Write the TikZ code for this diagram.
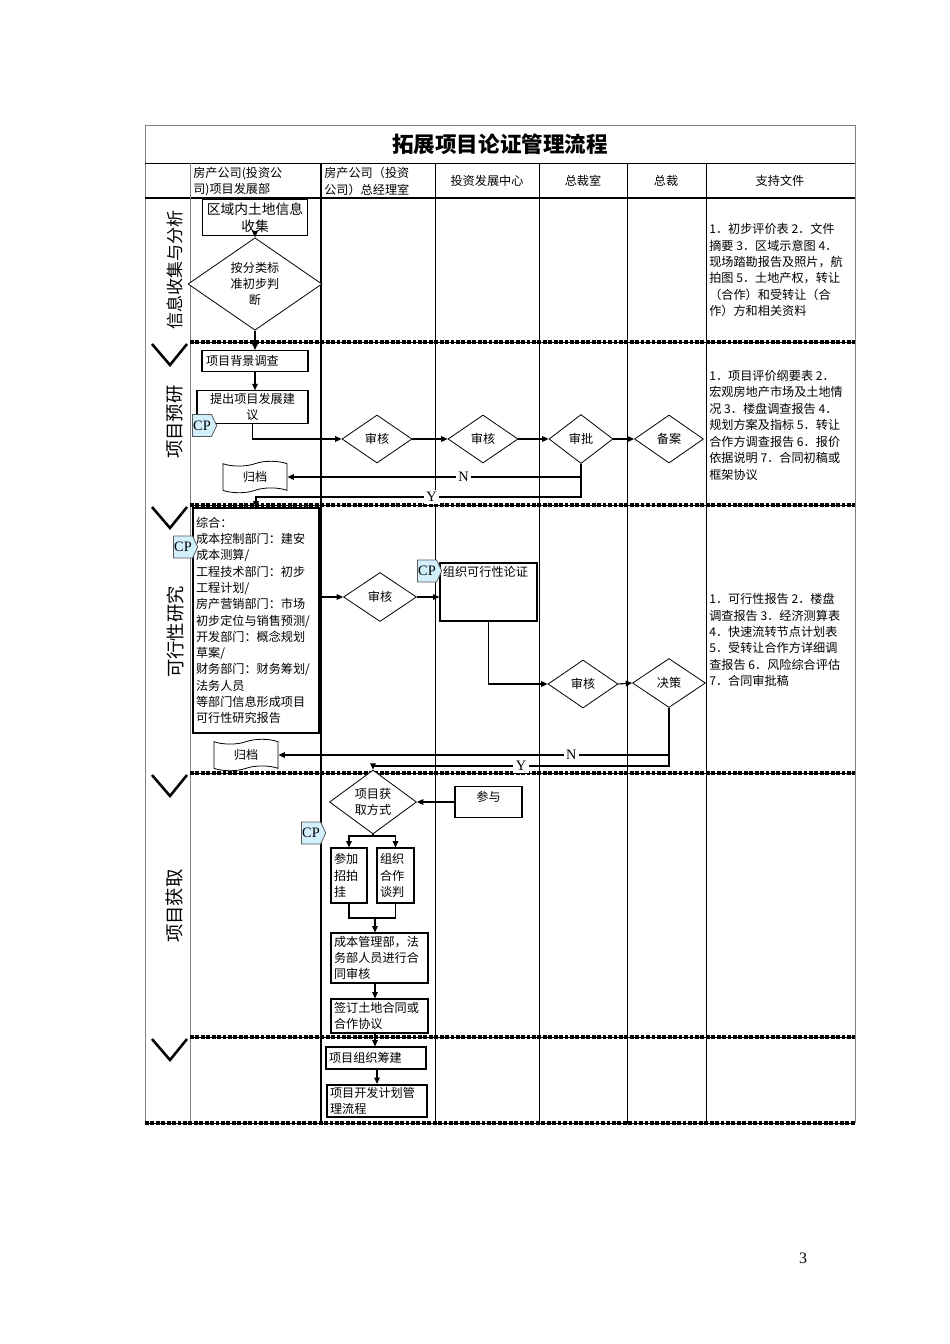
\documentclass[tikz,border=0pt]{standalone}
\usepackage{fontspec}
\setmainfont{Noto Sans CJK SC}
\newfontfamily\latinserif{Liberation Serif}
\usepackage{tikz}
\usetikzlibrary{arrows.meta,positioning,shapes.geometric,shapes.symbols}
\newcommand{\upx}{0.6262pt}
\newcommand{\bodyfont}{\fontsize{7.6}{10.2}\selectfont}
\newcommand{\docfont}{\fontsize{7.6}{10.3}\selectfont}
\newcommand{\cpfont}{\latinserif\fontsize{9}{10}\selectfont}
\newcommand{\lanefont}{\fontsize{11.5}{12}\selectfont}
\newcommand{\titlefont}{\bfseries\fontsize{13.5}{15}\selectfont}
\tikzset{
  proc/.style={draw, line width=0.7pt, fill=white, inner sep=1.5pt, font=\bodyfont},
  decide/.style={diamond, draw, line width=0.5pt, fill=white, inner sep=0pt, font=\bodyfont, align=center},
  cptag/.style={signal, signal to=east, signal pointer angle=130, draw=gray!70!black, fill=cyan!18,
    line width=0.5pt, inner sep=0.5pt, minimum width=24*\upx, minimum height=22*\upx, font=\cpfont},
  archive/.style={tape, draw, line width=0.5pt, fill=white, tape bend height=3pt,
    minimum width=64*\upx, minimum height=26*\upx, font=\bodyfont},
  flow/.style={-{Triangle[length=4pt,width=3.5pt]}, line width=0.7pt},
  link/.style={line width=0.7pt},
  lbl/.style={fill=white, font=\cpfont, inner sep=1.5pt},
  head/.style={font=\bodyfont, align=left, inner sep=0pt},
  lane/.style={rotate=90, font=\lanefont, inner sep=0pt},
  doc/.style={anchor=north west, align=left, font=\docfont, inner sep=0pt},
  colline/.style={line width=0.6pt},
  sepline/.style={line width=2.2pt, dash pattern=on 2.4pt off 1pt, postaction={draw, solid, line width=0.6pt}},
  vmark/.style={line width=1.6pt, line join=miter},
}

\begin{document}
\begin{tikzpicture}[x=\upx,y=-\upx]
  \useasboundingbox (0,0) rectangle (950,1344);
  % frame
  \draw[colline,gray] (145,1123) -- (145,125) -- (855,125) -- (855,1123);
  \draw[colline] (145,163) -- (855,163);
  \draw[line width=1.5pt] (145,198) -- (855,198);
  \draw[colline,gray] (190,163) -- (190,1123);
  \draw[colline,line width=1.1pt] (321,163) -- (321,1123);
  \foreach \cx in {435,539,627,706}
    \draw[colline] (\cx,163) -- (\cx,1123);
  % stage separators
  \foreach \sy in {342,505,773,1037} {
    \draw[sepline] (190,\sy) -- (855,\sy);
    \draw[vmark] (152,\sy+2) -- (170,\sy+23) -- (187,\sy+2);
  }
  \draw[sepline] (145,1123) -- (855,1123);
  % title and header
  \node[font=\titlefont] (title) at (500,144) {拓展项目论证管理流程};
  \node[head, anchor=north west] (h1) at (193,167) {房产公司(投资公\\司)项目发展部};
  \node[head, anchor=north west] (h2) at (324,167) {房产公司（投资\\公司）总经理室};
  \node[head] (h3) at (487,181) {投资发展中心};
  \node[head] (h4) at (583,181) {总裁室};
  \node[head] (h5) at (666,181) {总裁};
  \node[head] (h6) at (780,181) {支持文件};
  % stage labels
  \node[lane, font=\fontsize{10.7}{12}\selectfont] (l1) at (175,270) {信息收集与分析};
  \node[lane] (l2) at (175,422) {项目预研};
  \node[lane] (l3) at (175,632) {可行性研究};
  \node[lane] (l4) at (175,906) {项目获取};
  % stage 1
  \node[proc, font=\fontsize{8.6}{11}\selectfont, align=center, minimum width=105*\upx, minimum height=35*\upx] (collect) at (255,217.5) {区域内土地信息\\收集};
  \node[decide, minimum width=134*\upx, minimum height=88*\upx] (judge) at (255,284) {按分类标\\准初步判\\断};
  \draw[flow] (collect.south) -- (judge.north);
  % stage 2
  \node[proc, align=left, text width=98*\upx, minimum width=106*\upx, minimum height=21*\upx] (survey) at (255,361) {项目背景调查};
  \node[proc, align=center, minimum width=111*\upx, minimum height=32*\upx] (propose) at (252.5,407) {提出项目发展建\\议};
  \node[cptag] (cp1) at (202,425.5) {CP};
  \draw[flow] (judge.south) -- (survey.north);
  \draw[flow] (survey.south) -- (survey.south |- propose.north);
  \node[decide, minimum width=70*\upx, minimum height=48*\upx] (chk1) at (377,439) {审核};
  \node[decide, minimum width=70*\upx, minimum height=48*\upx] (chk2) at (483,439) {审核};
  \node[decide, minimum width=64*\upx, minimum height=49*\upx] (appr) at (581,439) {审批};
  \node[decide, minimum width=69*\upx, minimum height=48*\upx] (record) at (669,439) {备案};
  \node[archive] (file1) at (255,477) {归档};
  \draw[flow] (propose.south) |- (chk1.west);
  \draw[flow] (chk1.east) -- (chk2.west);
  \draw[flow] (chk2.east) -- (appr.west);
  \draw[flow] (appr.east) -- (record.west);
  \draw[flow] (appr.south) |- (file1.east) node[lbl, pos=0.7] {N};
  \coordinate (ybend1) at (0,497);
  \node[doc] (d1) at (709,223) {1．初步评价表 2．文件\\摘要 3．区域示意图 4．\\现场踏勘报告及照片，航\\拍图 5．土地产权，转让\\（合作）和受转让（合\\作）方和相关资料};
  \node[doc] (d2) at (709,370) {1．项目评价纲要表 2．\\宏观房地产市场及土地情\\况 3．楼盘调查报告 4．\\规划方案及指标 5．转让\\合作方调查报告 6．报价\\依据说明 7．合同初稿或\\框架协议};
  % stage 3
  \node[proc, align=left, text width=120*\upx, minimum width=126*\upx, minimum height=225*\upx] (study) at (256,620.5) {综合：\\成本控制部门：建安\\成本测算/\\工程技术部门：初步\\工程计划/\\房产营销部门：市场\\初步定位与销售预测/\\开发部门：概念规划\\草案/\\财务部门：财务筹划/\\法务人员\\等部门信息形成项目\\可行性研究报告};
  \node[cptag] (cp2) at (183,547) {CP};
  \draw[flow] (appr.south) -- (appr.south |- ybend1) -| (study.north) node[lbl, pos=0.23] {Y};
  \node[decide, minimum width=73*\upx, minimum height=49*\upx] (chk3) at (380,597) {审核};
  \node[proc, minimum width=97*\upx, minimum height=58*\upx,
    label={[font=\bodyfont, anchor=north west, inner sep=2pt]north west:组织可行性论证}] (org) at (488.5,592) {};
  \node[cptag] (cp3) at (427,571) {CP};
  \node[decide, minimum width=70*\upx, minimum height=48*\upx] (chk4) at (583,684) {审核};
  \node[decide, minimum width=73*\upx, minimum height=49*\upx] (final) at (669,683) {决策};
  \node[archive, minimum height=28*\upx] (file2) at (246,755) {归档};
  \draw[flow] (study.east |- chk3.west) -- (chk3.west);
  \draw[flow] (chk3.east) -- (chk3.east -| org.west);
  \draw[flow] (org.south) |- (chk4.west);
  \draw[flow] (chk4.east) -- (final.west);
  \draw[flow] (final.south) |- (file2.east) node[lbl, pos=0.625] {N};
  \coordinate (ybend2) at (0,766);
  \node[doc] (d3) at (709,593) {1．可行性报告 2．楼盘\\调查报告 3．经济测算表\\4．快速流转节点计划表\\5．受转让合作方详细调\\查报告 6．风险综合评估\\7．合同审批稿};
  % stage 4
  \node[decide, minimum width=87*\upx, minimum height=55*\upx] (acq) at (373,802) {项目获\\取方式};
  \draw[flow] (final.south) -- (final.south |- ybend2) -| (acq.north) node[lbl, pos=0.25] {Y};
  \node[proc, minimum width=67*\upx, minimum height=31*\upx,
    label={[font=\bodyfont, anchor=north, inner sep=3pt]north:参与}] (join) at (488.5,802) {};
  \draw[flow] (join.west) -- (acq.east);
  \node[cptag] (cp4) at (311,833) {CP};
  \coordinate (split) at (373,836);
  \node[proc, align=left, text width=30*\upx, minimum width=36*\upx, minimum height=55*\upx] (bid) at (349,875.5) {参加\\招拍\\挂};
  \node[proc, align=left, text width=31*\upx, minimum width=37*\upx, minimum height=55*\upx] (talk) at (395.5,875.5) {组织\\合作\\谈判};
  \draw[link] (acq.south) -- (split);
  \draw[flow] (split) -| (bid.north);
  \draw[flow] (split) -| (talk.north);
  \coordinate (merge) at (375,918);
  \node[proc, align=left, text width=91*\upx, minimum width=97*\upx, minimum height=50*\upx] (review) at (379.5,958) {成本管理部，法\\务部人员进行合\\同审核};
  \node[proc, align=left, text width=91*\upx, minimum width=97*\upx, minimum height=34*\upx] (sign) at (379.5,1016) {签订土地合同或\\合作协议};
  \draw[link] (bid.south) |- (merge) -| (talk.south);
  \draw[flow] (merge) -- (merge |- review.north);
  \draw[flow] (review.south -| merge) -- (sign.north -| merge);
  % stage 5
  \node[proc, align=left, text width=94*\upx, minimum width=100*\upx, minimum height=22*\upx] (build) at (376,1058) {项目组织筹建};
  \node[proc, line width=1.2pt, align=left, text width=94*\upx, minimum width=100*\upx, minimum height=32*\upx] (plan) at (377,1101) {项目开发计划管\\理流程};
  \draw[flow] (sign.south -| merge) -- (build.north -| merge);
  \draw[flow] (build.south -| plan) -- (plan.north);
  % page number
  \node[font=\latinserif\fontsize{10}{12}\selectfont] (page) at (803,1258) {3};
\end{tikzpicture}
\end{document}
